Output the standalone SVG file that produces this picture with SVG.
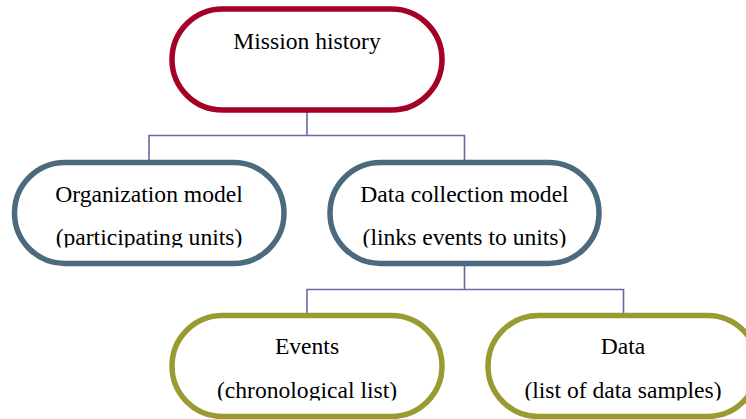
<svg xmlns="http://www.w3.org/2000/svg" width="746" height="419" viewBox="0 0 746 419">
<style>
.box{fill:#ffffff;stroke-width:5.5}
.red{stroke:#A50026}
.slate{stroke:#4C6A7E}
.olive{stroke:#9A9A33}
.lbl{font-family:"Liberation Serif","Times New Roman",serif;font-size:23.6px;fill:#000;text-anchor:middle}
.conn{fill:none;stroke:#6868A8;stroke-width:1.6}
</style>
<defs>
<clipPath id="c2"><rect x="0" y="0" width="746" height="247.5"/></clipPath>
<clipPath id="c3"><rect x="0" y="0" width="746" height="400.5"/></clipPath>
</defs>
<g id="connectors">
<path class="conn" d="M307 111 V135.5 M149 162 V135.5 H464.5 V162"/>
<path class="conn" d="M464.5 265 V289.5 M307 315 V289.5 H623.5 V315"/>
</g>
<g id="mission-history">
<rect class="box red" x="172" y="9" width="270" height="101" rx="50.5"/>
<text class="lbl" x="307" y="49">Mission history</text>
</g>
<g id="organization-model">
<rect class="box slate" x="14.5" y="162.5" width="269.5" height="101" rx="50.5"/>
<text class="lbl" x="149" y="201.5">Organization model</text>
<text class="lbl" x="149" y="245" clip-path="url(#c2)">(participating units)</text>
</g>
<g id="data-collection-model">
<rect class="box slate" x="330" y="162.5" width="269" height="101" rx="50.5"/>
<text class="lbl" x="464.5" y="201.5">Data collection model</text>
<text class="lbl" x="464.5" y="245" clip-path="url(#c2)">(links events to units)</text>
</g>
<g id="events">
<rect class="box olive" x="172" y="315.5" width="270" height="101" rx="50.5"/>
<text class="lbl" x="307" y="354">Events</text>
<text class="lbl" x="307" y="397.5" clip-path="url(#c3)">(chronological list)</text>
</g>
<g id="data">
<rect class="box olive" x="488" y="315.5" width="270" height="101" rx="50.5"/>
<text class="lbl" x="623" y="354">Data</text>
<text class="lbl" x="623" y="397.5" clip-path="url(#c3)">(list of data samples)</text>
</g>
</svg>
